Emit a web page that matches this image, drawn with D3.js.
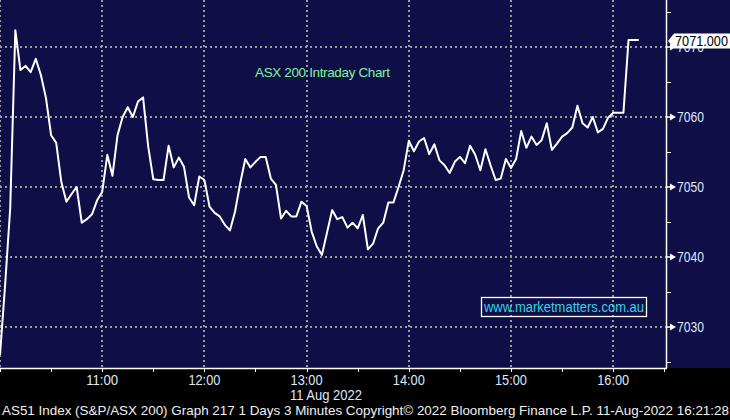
<!DOCTYPE html>
<html>
<head>
<meta charset="utf-8">
<script src="https://cdn.jsdelivr.net/npm/d3@7"></script>
<style>
  html, body { margin: 0; padding: 0; background: #000; }
  svg { display: block; }
  text { font-family: "Liberation Sans", Arial, sans-serif; }
</style>
</head>
<body>
<div class="root"></div>
<script>
// ASX 200 intraday, 3 minute bars from 10:00
var startTime = "10:00",
    barMinutes = 3;

var prices = [
  7026.0, 7036.0, 7047.0, 7072.4, 7066.7, 7067.3, 7066.4, 7068.3, 7066.0, 7062.7,
  7057.4, 7056.3, 7050.7, 7047.9, 7049.0, 7050.0, 7044.9, 7045.4, 7046.1, 7048.1,
  7049.3, 7054.6, 7051.6, 7057.4, 7060.0, 7061.4, 7060.0, 7062.2, 7062.8, 7055.8,
  7051.1, 7051.0, 7051.0, 7055.9, 7052.8, 7054.2, 7052.9, 7048.5, 7047.4, 7051.5,
  7051.0, 7047.2, 7046.3, 7045.8, 7044.6, 7043.8, 7046.5, 7050.5, 7054.0, 7052.8,
  7053.6, 7054.3, 7054.3, 7051.2, 7050.3, 7045.5, 7046.6, 7045.8, 7045.8, 7047.9,
  7047.3, 7043.6, 7041.5, 7040.3, 7043.5, 7046.7, 7045.4, 7045.7, 7044.2, 7044.9,
  7044.1, 7046.0, 7041.1, 7041.9, 7044.1, 7044.9, 7047.8, 7047.8, 7050.0, 7052.4,
  7056.6, 7055.1, 7056.5, 7057.0, 7054.7, 7056.1, 7053.8, 7053.1, 7052.0, 7053.6,
  7054.3, 7053.4, 7055.9, 7054.6, 7052.4, 7055.4, 7053.1, 7051.0, 7051.2, 7054.0,
  7052.7, 7054.0, 7058.0, 7055.6, 7057.2, 7056.0, 7056.7, 7059.1, 7055.3, 7056.2,
  7057.2, 7057.7, 7058.5, 7061.6, 7059.1, 7058.5, 7060.0, 7057.8, 7058.3, 7059.9,
  7060.6, 7060.6, 7060.6, 7071.0, 7071.0, 7071.0
];

var hourTicks = ["10:00", "11:00", "12:00", "13:00", "14:00", "15:00", "16:00"],
    halfTicks = ["10:30", "11:30", "12:30", "13:30", "14:30", "15:30", "16:30"],
    yMajor = [7030, 7040, 7050, 7060, 7070],
    yMinor = [7025, 7035, 7045, 7055, 7065, 7075],
    lastValue = 7071.0,
    dateLabel = "11 Aug 2022",
    title = "ASX 200 Intraday Chart",
    website = "www.marketmatters.com.au",
    footer = "AS51 Index (S&P/ASX 200) Graph 217 1 Days 3 Minutes  Copyright\u00a9 2022 Bloomberg Finance L.P.  11-Aug-2022 16:21:28";

var width = 730,
    height = 420,
    plotW = 666,
    plotH = 367,
    navy = "#100e46",
    grid = "#9a9a9a",
    labelColor = "#dce9ff";

var parse = d3.timeParse("%Y-%m-%d %H:%M");
function at(hm) { return parse("2022-08-11 " + hm); }
var t0 = at(startTime);

var x = d3.scaleTime()
    .domain([t0, d3.timeMinute.offset(t0, plotW / 1.7)])
    .range([0, plotW]);

var y = d3.scaleLinear()
    .domain([7070 - 320 / 7, 7070 + 47 / 7])
    .range([plotH, 0]);

var svg = d3.select(".root")
    .append("svg")
    .attr("width", width)
    .attr("height", height);

svg.append("rect")
    .attr("width", width).attr("height", height)
    .attr("fill", "#000");

svg.append("rect")
    .attr("width", width).attr("height", plotH + 1)
    .attr("fill", navy);

svg.append("clipPath").attr("id", "plot")
  .append("rect").attr("width", plotW).attr("height", plotH);

var g = svg.append("g").attr("clip-path", "url(#plot)");

// grid
g.selectAll(".hgrid")
    .data(yMajor)
  .enter().append("line")
    .attr("x1", 0).attr("x2", plotW)
    .attr("y1", d => Math.round(y(d))).attr("y2", d => Math.round(y(d)))
    .attr("stroke", grid).attr("stroke-width", 2)
    .attr("stroke-dasharray", "2,3");

g.selectAll(".vgrid")
    .data(hourTicks)
  .enter().append("line")
    .attr("x1", d => Math.round(x(at(d)))).attr("x2", d => Math.round(x(at(d))))
    .attr("y1", 0).attr("y2", plotH)
    .attr("stroke", grid).attr("stroke-width", 2)
    .attr("stroke-dasharray", "2,3");

// price line
var line = d3.line()
    .x((d, i) => x(d3.timeMinute.offset(t0, i * barMinutes)))
    .y(d => y(d));

g.append("path")
    .datum(prices)
    .attr("d", line)
    .attr("fill", "none")
    .attr("stroke", "#fff")
    .attr("stroke-width", 2)
    .attr("stroke-linejoin", "round");

// title + website box
svg.append("text")
    .attr("x", 255).attr("y", 77)
    .attr("fill", "#7ef59a")
    .style("font-size", "13.5px")
    .attr("textLength", 135)
    .text(title);

svg.append("rect")
    .attr("x", 481.5).attr("y", 297.5)
    .attr("width", 165).attr("height", 19)
    .attr("fill", "none").attr("stroke", "#fff").attr("stroke-width", 1.3);

svg.append("text")
    .attr("x", 484).attr("y", 312)
    .attr("fill", "#35d3e3")
    .style("font-size", "14px")
    .attr("textLength", 160)
    .attr("lengthAdjust", "spacingAndGlyphs")
    .text(website);

// right axis
svg.append("line")
    .attr("x1", plotW + 0.5).attr("x2", plotW + 0.5)
    .attr("y1", 0).attr("y2", plotH + 1)
    .attr("stroke", "#fff").attr("stroke-width", 1.5);

svg.selectAll(".minor")
    .data(yMinor)
  .enter().append("line")
    .attr("x1", plotW).attr("x2", plotW + 5)
    .attr("y1", d => Math.round(y(d)) + 0.5).attr("y2", d => Math.round(y(d)) + 0.5)
    .attr("stroke", "#fff");

var major = svg.selectAll(".major")
    .data(yMajor)
  .enter().append("g")
    .attr("transform", d => "translate(" + plotW + "," + Math.round(y(d)) + ")");

major.append("path")
    .attr("d", "M0,-0.7 L4,-0.7 L4,-3.5 L10,0 L4,3.5 L4,0.7 L0,0.7 Z")
    .attr("fill", "#fff");

major.append("text")
    .attr("x", 11).attr("dy", "0.36em")
    .attr("fill", labelColor)
    .style("font-size", "14px")
    .attr("textLength", 27)
    .attr("lengthAdjust", "spacingAndGlyphs")
    .text(d => d);

// last value flag
var ly = Math.round(y(lastValue)) + 1;
svg.append("path")
    .attr("d", "M" + (plotW + 2) + "," + ly + " L" + (plotW + 8) + "," + (ly - 7.5) +
               " L" + width + "," + (ly - 7.5) + " L" + width + "," + (ly + 7.5) +
               " L" + (plotW + 8) + "," + (ly + 7.5) + " Z")
    .attr("fill", "#fff");

svg.append("text")
    .attr("x", plotW + 9).attr("y", ly).attr("dy", "0.36em")
    .attr("fill", "#000")
    .style("font-size", "14px")
    .attr("textLength", 53)
    .attr("lengthAdjust", "spacingAndGlyphs")
    .text(d3.format(".3f")(lastValue));

// bottom axis
svg.append("line")
    .attr("x1", 0).attr("x2", plotW + 1)
    .attr("y1", plotH + 1.5).attr("y2", plotH + 1.5)
    .attr("stroke", "#fff").attr("stroke-width", 1.5);

svg.selectAll(".xtick")
    .data(hourTicks.concat(halfTicks))
  .enter().append("line")
    .attr("x1", d => Math.round(x(at(d))) + 0.5).attr("x2", d => Math.round(x(at(d))) + 0.5)
    .attr("y1", plotH + 1).attr("y2", plotH + 5)
    .attr("stroke", "#fff");

svg.selectAll(".xlabel")
    .data(hourTicks.slice(1))
  .enter().append("text")
    .attr("x", d => x(at(d)))
    .attr("y", 385)
    .attr("text-anchor", "middle")
    .attr("fill", labelColor)
    .style("font-size", "14px")
    .attr("textLength", 32)
    .attr("lengthAdjust", "spacingAndGlyphs")
    .text(d => d);

svg.append("text")
    .attr("x", 326).attr("y", 400)
    .attr("text-anchor", "middle")
    .attr("fill", labelColor)
    .style("font-size", "14px")
    .attr("textLength", 72)
    .attr("lengthAdjust", "spacingAndGlyphs")
    .text(dateLabel);

svg.append("text")
    .attr("x", 2).attr("y", 415)
    .attr("fill", "#f0f0f0")
    .style("font-size", "13px")
    .attr("textLength", 727)
    .attr("lengthAdjust", "spacingAndGlyphs")
    .text(footer);
</script>
</body>
</html>
